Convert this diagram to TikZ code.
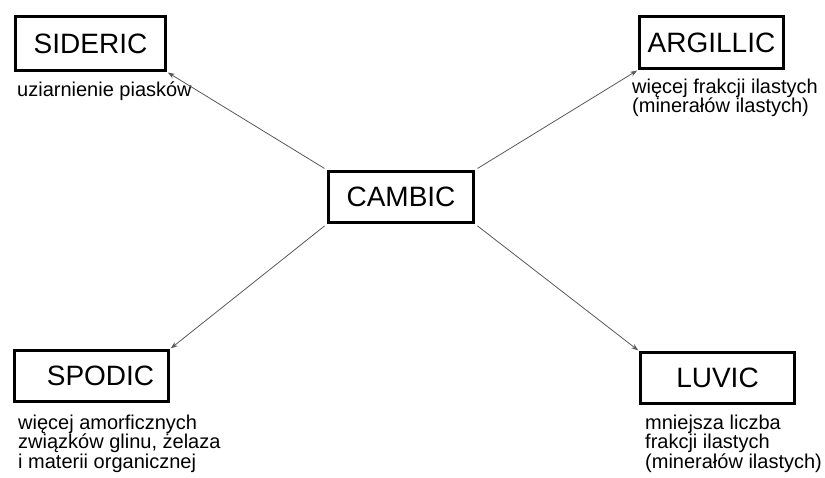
\documentclass[tikz,border=0pt]{standalone}
\usepackage{fontspec}
\setmainfont{Liberation Sans}
\usetikzlibrary{arrows.meta}
\begin{document}
\begin{tikzpicture}[x=1pt,y=-1pt,
  hbox/.style={draw=black,line width=3pt,inner sep=0pt,font=\fontsize{28}{34}\selectfont},
  captext/.style={inner sep=0pt,align=left,font=\fontsize{20}{19.7}\selectfont},
  conn/.style={draw=black!65,line width=0.8pt,-{Stealth[length=7pt,width=5pt]},shorten <=3pt,shorten >=1pt}]
\useasboundingbox (0,0) rectangle (825,478);
\node[hbox,minimum width=150pt,minimum height=54pt] (sideric) at (90.5,43.5) {SIDERIC\hspace{8pt}};
\node[hbox,minimum width=144pt,minimum height=52pt] (argillic) at (711.5,42.5) {ARGILLIC};
\node[hbox,minimum width=145pt,minimum height=51pt] (cambic) at (401,197) {CAMBIC};
\node[hbox,minimum width=154pt,minimum height=51pt] (spodic) at (91.5,376) {\hspace{18pt}SPODIC};
\node[hbox,minimum width=154pt,minimum height=51pt] (luvic) at (717.5,378) {LUVIC};
\node[captext,anchor=base west] (capsid) at (17,97) {uziarnienie piasków};
\node[captext,anchor=north west] (caparg) at (632,78.4) {więcej frakcji ilastych\\(minerałów ilastych)};
\node[captext,anchor=north west] (capspo) at (18,414.4) {więcej amorficznych\\związków glinu, żelaza\\i materii organicznej};
\node[captext,anchor=north west] (capluv) at (645,414.4) {mniejsza liczba\\frakcji ilastych\\(minerałów ilastych)};
\draw[conn] (cambic.north west) -- (sideric.south east);
\draw[conn] (cambic.north east) -- (argillic.south west);
\draw[conn] (cambic.south west) -- (spodic.north east);
\draw[conn] (cambic.south east) -- (luvic.north west);
\end{tikzpicture}
\end{document}
